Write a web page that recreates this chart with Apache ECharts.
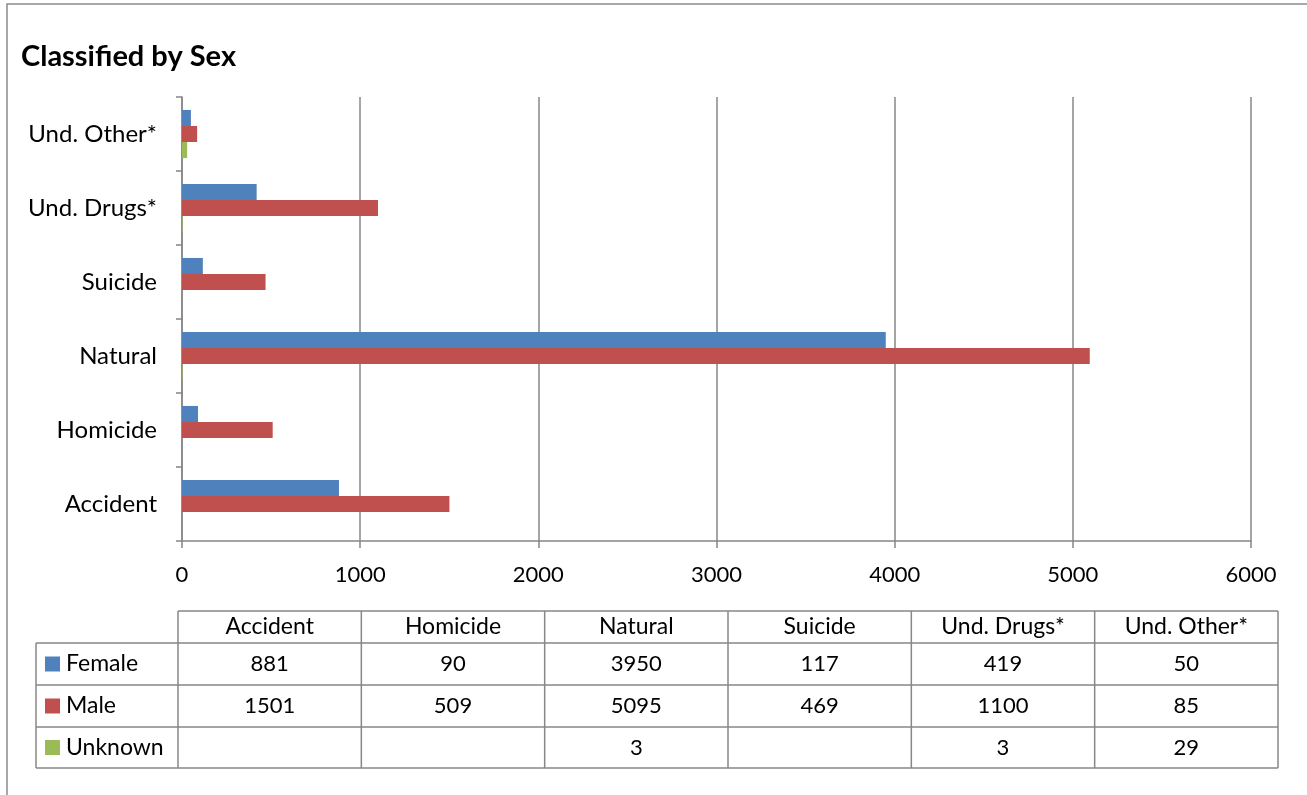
<!DOCTYPE html>
<html>
<head>
<meta charset="utf-8">
<script src="https://cdn.jsdelivr.net/npm/echarts@6/dist/echarts.min.js"></script>
<style>
html,body{margin:0;padding:0;background:#fff;}
#chart{width:1307px;height:795px;}
</style>
</head>
<body>
<div id="chart"></div>
<script>
// ---- data ----
const categories = ['Accident', 'Homicide', 'Natural', 'Suicide', 'Und. Drugs*', 'Und. Other*'];
const seriesNames = ['Female', 'Male', 'Unknown'];
const female = [881, 90, 3950, 117, 419, 50];
const male = [1501, 509, 5095, 469, 1100, 85];
const unknown = [null, null, 3, null, 3, 29];
const xTicks = [0, 1000, 2000, 3000, 4000, 5000, 6000];

const colors = ['#4F81BD', '#C0504D', '#9BBB59'];
const seriesData = [female, male, unknown];
const FONT = 'Lato, "Open Sans", sans-serif';
const GRID_COLOR = '#878787';
const TXT = '23px ' + FONT;

// ---- table (layout) ----
const tblLeft = 36, tblColStart = 178, tblRight = 1278;
const rowEdges = [611, 643, 685, 727, 768];
const nCols = categories.length;
const colW = (tblRight - tblColStart) / nCols;
const graphics = [];
// outer chart border
graphics.push({type: 'rect', shape: {x: 7, y: 4, width: 1320, height: 820}, style: {fill: 'none', stroke: '#8a8a8a', lineWidth: 1.5}, silent: true});
// horizontal lines
graphics.push({type: 'line', shape: {x1: tblColStart, y1: rowEdges[0], x2: tblRight, y2: rowEdges[0]}, style: {stroke: GRID_COLOR, lineWidth: 1.5}});
for (let r = 1; r < rowEdges.length; r++) {
  graphics.push({type: 'line', shape: {x1: tblLeft, y1: rowEdges[r], x2: tblRight, y2: rowEdges[r]}, style: {stroke: GRID_COLOR, lineWidth: 1.5}});
}
// vertical lines
graphics.push({type: 'line', shape: {x1: tblLeft, y1: rowEdges[1], x2: tblLeft, y2: rowEdges[4]}, style: {stroke: GRID_COLOR, lineWidth: 1.5}});
for (let c = 0; c <= nCols; c++) {
  const x = tblColStart + c * colW;
  graphics.push({type: 'line', shape: {x1: x, y1: rowEdges[0], x2: x, y2: rowEdges[4]}, style: {stroke: GRID_COLOR, lineWidth: 1.5}});
}
// header texts
for (let c = 0; c < nCols; c++) {
  graphics.push({type: 'text', x: tblColStart + (c + 0.5) * colW, y: (rowEdges[0] + rowEdges[1]) / 2,
    style: {text: categories[c], font: TXT, fill: '#000', align: 'center', verticalAlign: 'middle'}});
}
// rows
for (let s = 0; s < seriesNames.length; s++) {
  const cy = (rowEdges[s + 1] + rowEdges[s + 2]) / 2;
  graphics.push({type: 'rect', shape: {x: 45, y: cy - 7.5, width: 15, height: 15}, style: {fill: colors[s]}});
  graphics.push({type: 'text', x: 66, y: cy, style: {text: seriesNames[s], font: TXT, fill: '#000', align: 'left', verticalAlign: 'middle'}});
  for (let c = 0; c < nCols; c++) {
    const v = seriesData[s][c];
    graphics.push({type: 'text', x: tblColStart + (c + 0.5) * colW, y: cy,
      style: {text: v == null ? '' : String(v), font: '22px ' + FONT, fill: '#000', align: 'center', verticalAlign: 'middle'}});
  }
}

const chart = echarts.init(document.getElementById('chart'), null, {renderer: 'canvas'});
chart.setOption({
  animation: false,
  backgroundColor: '#fff',
  textStyle: {fontFamily: FONT},
  title: {
    text: 'Classified by Sex', left: 16, top: 37,
    textStyle: {fontFamily: FONT, fontSize: 29, fontWeight: 'bold', color: '#000'}
  },
  grid: {left: 182, top: 97, right: 56, bottom: 254, containLabel: false},
  xAxis: {
    type: 'value', min: xTicks[0], max: xTicks[xTicks.length - 1], interval: 1000,
    axisLine: {show: true, lineStyle: {color: GRID_COLOR, width: 1.5}},
    axisTick: {show: true, length: 7, lineStyle: {color: GRID_COLOR, width: 1.5}},
    splitLine: {show: true, lineStyle: {color: GRID_COLOR, width: 1.5}},
    axisLabel: {fontSize: 22, color: '#000', margin: 23, fontFamily: FONT,
      formatter: v => xTicks.includes(v) ? String(v) : ''}
  },
  yAxis: {
    type: 'category', data: categories,
    axisLine: {show: true, lineStyle: {color: GRID_COLOR, width: 1.5}},
    axisTick: {show: true, length: 6, lineStyle: {color: GRID_COLOR, width: 1.5}},
    splitLine: {show: false},
    axisLabel: {fontSize: 24, color: '#000', margin: 25, fontFamily: FONT}
  },
  series: seriesNames.map((name, i) => ({
    name: name, type: 'bar', data: seriesData[i],
    itemStyle: {color: colors[i]},
    barGap: '0%', barCategoryGap: '35%'
  })),
  graphic: graphics
});
</script>
</body>
</html>
